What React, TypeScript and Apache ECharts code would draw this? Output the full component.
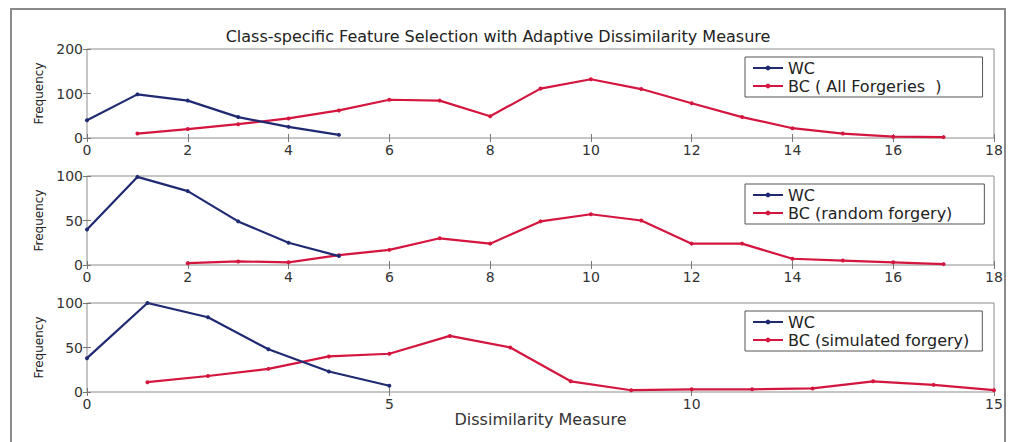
import React, { useEffect, useRef } from "react";
import * as echarts from "echarts";

const titleText = "Class-specific Feature Selection with Adaptive Dissimilarity Measure";
const xAxisName = "Dissimilarity Measure";
const yAxisName = "Frequency";

const wcX = [0, 1, 2, 3, 4, 5];
const wcAll = [40, 98, 84, 47, 25, 7];
const wcRandom = [40, 99, 83, 49, 25, 10];
const wcSimulated = [38, 100, 84, 48, 23, 7];

const bcAllX = [1, 2, 3, 4, 5, 6, 7, 8, 9, 10, 11, 12, 13, 14, 15, 16, 17];
const bcAll = [10, 20, 31, 44, 62, 86, 84, 49, 111, 132, 110, 78, 47, 22, 10, 3, 2];
const bcRandomX = [2, 3, 4, 5, 6, 7, 8, 9, 10, 11, 12, 13, 14, 15, 16, 17];
const bcRandom = [2, 4, 3, 11, 17, 30, 24, 49, 57, 50, 24, 24, 7, 5, 3, 1];
const bcSimX = [1, 2, 3, 4, 5, 6, 7, 8, 9, 10, 11, 12, 13, 14, 15];
const bcSim = [11, 18, 26, 40, 43, 63, 50, 12, 2, 3, 3, 4, 12, 8, 2];

const wcName = "WC";
const bcNames = ["BC ( All Forgeries  )", "BC (random forgery)", "BC (simulated forgery)"];
const xMaxes = [18, 18, 15];
const xIntervals = [2, 2, 5];
const yMaxes = [200, 100, 100];
const yIntervals = [100, 50, 50];

const FONT = "DejaVu Sans";
const WC_COLOR = "#1f2a72";
const BC_COLOR = "#d4163f";

const gridTops = [49, 176, 303];
const legendTops = [57, 184, 311];
const legendRightPads = [41, 32, 13];

function pairs(xs: number[], ys: number[]) {
  return xs.map((x, i) => [x, ys[i]]);
}

export default function App() {
  const ref = useRef<HTMLDivElement>(null);
  useEffect(() => {
    if (!ref.current) return;
    const chart = echarts.init(ref.current, null, { renderer: "svg" });
    const wcData = [wcAll, wcRandom, wcSimulated];
    const bcData = [pairs(bcAllX, bcAll), pairs(bcRandomX, bcRandom), pairs(bcSimX, bcSim)];

    const grids = gridTops.map((t) => ({
      left: 87,
      right: 20,
      top: t,
      height: 89,
      show: true,
      borderColor: "#8c8c8c",
      borderWidth: 1,
      backgroundColor: "transparent",
    }));

    const xAxes: any[] = [];
    [0, 1, 2].forEach((i) => {
      xAxes.push({
        gridIndex: i,
        type: "value",
        min: 0,
        max: xMaxes[i],
        interval: xIntervals[i],
        axisLine: { show: false },
        axisTick: { show: true, inside: true, length: 4, lineStyle: { color: "#777" } },
        axisLabel: { margin: 5, fontFamily: FONT, fontSize: 14, color: "#333" },
        splitLine: { show: false },
        name: i === 2 ? xAxisName : "",
        nameLocation: "middle",
        nameGap: 19,
        nameTextStyle: { fontFamily: FONT, fontSize: 16, color: "#333" },
      });
    });
    [0, 1, 2].forEach((i) => {
      xAxes.push({
        gridIndex: i,
        type: "value",
        position: "top",
        min: 0,
        max: xMaxes[i],
        interval: xIntervals[i],
        axisLine: { show: false },
        axisTick: { show: true, inside: true, length: 4, lineStyle: { color: "#777" } },
        axisLabel: { show: false },
        splitLine: { show: false },
      });
    });

    const yAxes: any[] = [];
    [0, 1, 2].forEach((i) => {
      yAxes.push({
        gridIndex: i,
        type: "value",
        min: 0,
        max: yMaxes[i],
        interval: yIntervals[i],
        axisLine: { show: false },
        axisTick: { show: true, inside: true, length: 4, lineStyle: { color: "#777" } },
        axisLabel: { margin: 4, fontFamily: FONT, fontSize: 14, color: "#333" },
        splitLine: { show: false },
        name: yAxisName,
        nameLocation: "middle",
        nameGap: 42,
        nameTextStyle: { fontFamily: FONT, fontSize: 12, color: "#222" },
      });
    });
    [0, 1, 2].forEach((i) => {
      yAxes.push({
        gridIndex: i,
        type: "value",
        position: "right",
        min: 0,
        max: yMaxes[i],
        interval: yIntervals[i],
        axisLine: { show: false },
        axisTick: { show: true, inside: true, length: 4, lineStyle: { color: "#777" } },
        axisLabel: { show: false },
        splitLine: { show: false },
      });
    });

    const series: any[] = [];
    [0, 1, 2].forEach((i) => {
      series.push({
        type: "line",
        name: wcName,
        xAxisIndex: i,
        yAxisIndex: i,
        data: pairs(wcX, wcData[i]),
        symbol: "circle",
        symbolSize: 4,
        lineStyle: { color: WC_COLOR, width: 2.2 },
        itemStyle: { color: WC_COLOR },
        z: 3,
      });
      series.push({
        type: "line",
        name: bcNames[i],
        xAxisIndex: i,
        yAxisIndex: i,
        data: bcData[i],
        symbol: "circle",
        symbolSize: 4,
        lineStyle: { color: BC_COLOR, width: 2.2 },
        itemStyle: { color: BC_COLOR },
        z: 2,
      });
    });

    const legends = [0, 1, 2].map((i) => ({
      data: [wcName, bcNames[i]],
      orient: "vertical",
      left: 745,
      top: legendTops[i],
      itemWidth: 30,
      itemHeight: 6,
      itemGap: 2,
      padding: [3, legendRightPads[i], 3, 7],
      borderColor: "#555",
      borderWidth: 1,
      backgroundColor: "#fff",
      selectedMode: false,
      textStyle: { fontFamily: FONT, fontSize: 16, color: "#222" },
    }));

    chart.setOption({
      animation: false,
      backgroundColor: "#fff",
      title: {
        text: titleText,
        left: 493,
        top: 23,
        textAlign: "center",
        textStyle: { fontFamily: FONT, fontSize: 16, fontWeight: "normal", color: "#222" },
      },
      grid: grids,
      xAxis: xAxes,
      yAxis: yAxes,
      legend: legends,
      series,
      graphic: [
        {
          type: "rect",
          silent: true,
          z: -10,
          shape: { x: 11, y: 9, width: 994, height: 470 },
          style: { fill: "none", stroke: "#8a8a8a", lineWidth: 2 },
        },
      ],
    });
    return () => chart.dispose();
  }, []);
  return (
    <div
      ref={ref}
      style={{ position: "absolute", left: 0, top: 0, width: 1014, height: 442, background: "#fff" }}
    />
  );
}
